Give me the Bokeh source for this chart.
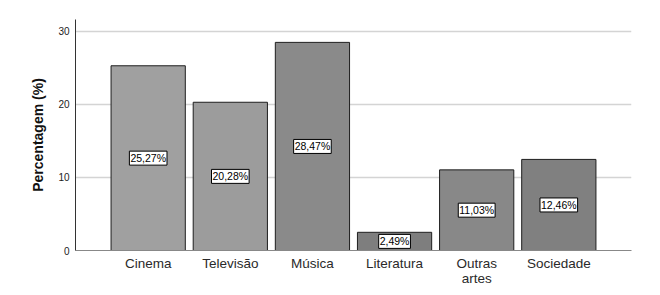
from bokeh.plotting import figure
from bokeh.models import ColumnDataSource, Range1d, FixedTicker
from bokeh.core.properties import value
from bokeh.embed import file_html
from bokeh.resources import INLINE

categories = ["Cinema", "Televisão", "Música", "Literatura", "Outras\nartes", "Sociedade"]
percentages = [25.27, 20.28, 28.47, 2.49, 11.03, 12.46]
labels = ["25,27%", "20,28%", "28,47%", "2,49%", "11,03%", "12,46%"]
colors = ["#a0a0a0", "#9c9c9c", "#8a8a8a", "#7e7e7e", "#888888", "#808080"]
y_ticks = [0, 10, 20, 30]

xs = list(range(1, len(categories) + 1))
src = ColumnDataSource(dict(
    x=xs,
    top=percentages,
    mid=[v / 2 for v in percentages],
    label=labels,
    color=colors,
))

p = figure(frame_width=556, frame_height=231, output_backend="svg", toolbar_location=None,
           x_range=Range1d(0.115, 6.885), y_range=Range1d(0, 31.6),
           min_border_left=75, min_border_right=13, min_border_top=19, min_border_bottom=0)
p.outline_line_color = None
p.background_fill_color = "white"

p.vbar(x="x", top="top", width=0.904, bottom=0, source=src,
       fill_color="color", line_color="#1e1e1e", line_width=1)

p.text(x="x", y="mid", text="label", source=src,
       text_align="center", text_baseline="middle",
       text_font=value("Liberation Sans"), text_font_size="10.5px", text_color="black",
       background_fill_color="white", border_line_color="black", border_line_width=1,
       padding=1)

p.xgrid.grid_line_color = None
p.ygrid.grid_line_color = "#d4d4d4"
p.ygrid.grid_line_width = 1.5
p.ygrid.ticker = FixedTicker(ticks=[10, 20, 30])

p.xaxis.ticker = FixedTicker(ticks=xs)
p.xaxis.major_label_overrides = {x: c for x, c in zip(xs, categories)}
p.xaxis.major_label_text_font = "Liberation Sans"
p.xaxis.major_label_text_font_size = "13.5px"
p.xaxis.major_label_text_color = "#2a2a2a"
p.xaxis.major_label_text_line_height = 1.05
p.xaxis.major_tick_line_color = None
p.xaxis.major_tick_out = 0
p.xaxis.major_tick_in = 0
p.xaxis.minor_tick_line_color = None
p.xaxis.axis_line_color = "#888888"
p.xaxis.major_label_standoff = 5

p.yaxis.ticker = FixedTicker(ticks=y_ticks)
p.yaxis.major_label_text_font = "Liberation Sans"
p.yaxis.major_label_text_font_size = "10px"
p.yaxis.major_label_text_color = "#222222"
p.yaxis.major_tick_line_color = None
p.yaxis.major_tick_out = 0
p.yaxis.major_tick_in = 0
p.yaxis.minor_tick_line_color = None
p.yaxis.axis_line_color = "#333333"
p.yaxis.major_label_standoff = 6
p.yaxis.axis_label = "Percentagem (%)"
p.yaxis.axis_label_text_font = "Liberation Sans"
p.yaxis.axis_label_text_font_style = "bold"
p.yaxis.axis_label_text_font_size = "14px"
p.yaxis.axis_label_text_color = "#111111"
p.yaxis.axis_label_standoff = 9

open("out.html", "w").write(file_html(p, INLINE))
